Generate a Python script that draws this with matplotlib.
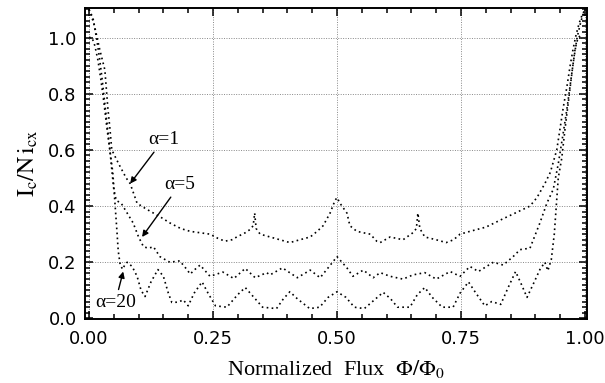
import matplotlib
matplotlib.use("Agg")
import matplotlib.pyplot as plt
from matplotlib.ticker import MultipleLocator

# alpha = 1 curve
alpha1_x = [0.000, 0.010, 0.022, 0.032, 0.038, 0.042, 0.046, 0.060, 0.075, 0.083, 0.089,
            0.097, 0.115, 0.130, 0.145, 0.163, 0.185, 0.204, 0.224, 0.244, 0.260, 0.274,
            0.288, 0.298, 0.315, 0.325, 0.331, 0.334, 0.337, 0.345, 0.365, 0.385, 0.405,
            0.425, 0.446, 0.460, 0.472, 0.486, 0.496, 0.500, 0.506, 0.520, 0.526, 0.540,
            0.553, 0.567, 0.580, 0.587, 0.607, 0.633, 0.653, 0.660, 0.663, 0.667, 0.677,
            0.700, 0.720, 0.735, 0.748, 0.768, 0.800, 0.835, 0.865, 0.889, 0.903, 0.919,
            0.930, 0.943, 0.950, 0.956, 0.963, 0.970, 0.976, 0.982, 0.988, 0.994, 1.000]
alpha1_y = [1.100, 1.050, 0.955, 0.885, 0.750, 0.680, 0.600, 0.550, 0.500, 0.480, 0.450,
            0.410, 0.390, 0.375, 0.360, 0.340, 0.320, 0.310, 0.305, 0.300, 0.285, 0.275,
            0.280, 0.290, 0.305, 0.317, 0.330, 0.375, 0.320, 0.300, 0.290, 0.280, 0.270,
            0.280, 0.290, 0.310, 0.330, 0.375, 0.420, 0.430, 0.410, 0.375, 0.330, 0.310,
            0.305, 0.300, 0.275, 0.270, 0.290, 0.280, 0.305, 0.320, 0.375, 0.320, 0.290,
            0.280, 0.270, 0.280, 0.300, 0.310, 0.325, 0.355, 0.380, 0.400, 0.430, 0.480,
            0.520, 0.600, 0.680, 0.750, 0.820, 0.900, 0.960, 1.010, 1.050, 1.080, 1.100]

# alpha = 5 curve
alpha5_x = [0.000, 0.008, 0.015, 0.021, 0.026, 0.031, 0.036, 0.041, 0.046, 0.050, 0.055,
            0.065, 0.077, 0.089, 0.100, 0.110, 0.120, 0.130, 0.143, 0.163, 0.183, 0.197,
            0.204, 0.214, 0.224, 0.244, 0.270, 0.292, 0.315, 0.335, 0.358, 0.365, 0.390,
            0.420, 0.446, 0.466, 0.482, 0.500, 0.520, 0.532, 0.553, 0.573, 0.587, 0.607,
            0.633, 0.653, 0.677, 0.700, 0.728, 0.748, 0.768, 0.785, 0.815, 0.835, 0.855,
            0.869, 0.889, 0.909, 0.923, 0.936, 0.946, 0.956, 0.963, 0.970, 0.977, 0.984,
            0.992, 1.000]
alpha5_y = [1.100, 1.070, 1.000, 0.930, 0.860, 0.780, 0.700, 0.620, 0.530, 0.460, 0.420,
            0.410, 0.375, 0.340, 0.290, 0.255, 0.250, 0.255, 0.220, 0.200, 0.205, 0.175,
            0.158, 0.175, 0.190, 0.150, 0.165, 0.142, 0.178, 0.145, 0.163, 0.155, 0.180,
            0.145, 0.172, 0.145, 0.180, 0.220, 0.180, 0.150, 0.172, 0.145, 0.163, 0.150,
            0.140, 0.155, 0.163, 0.140, 0.167, 0.150, 0.185, 0.167, 0.200, 0.190, 0.220,
            0.245, 0.250, 0.340, 0.410, 0.460, 0.550, 0.660, 0.740, 0.830, 0.920, 1.000,
            1.060, 1.100]

# alpha = 20 curve
alpha20_x = [0.000, 0.006, 0.012, 0.018, 0.024, 0.030, 0.036, 0.042, 0.048, 0.052, 0.056,
             0.059, 0.063, 0.068, 0.072, 0.077, 0.087, 0.097, 0.105, 0.113, 0.125, 0.139,
             0.150, 0.160, 0.167, 0.180, 0.190, 0.200, 0.212, 0.228, 0.240, 0.255, 0.278,
             0.300, 0.315, 0.330, 0.350, 0.378, 0.392, 0.405, 0.420, 0.445, 0.465, 0.482,
             0.500, 0.518, 0.535, 0.555, 0.578, 0.593, 0.608, 0.622, 0.647, 0.662, 0.677,
             0.692, 0.712, 0.734, 0.748, 0.765, 0.780, 0.798, 0.812, 0.830, 0.845, 0.860,
             0.872, 0.883, 0.895, 0.909, 0.919, 0.925, 0.932, 0.938, 0.942, 0.946, 0.953,
             0.960, 0.967, 0.974, 0.980, 0.986, 0.994]
alpha20_y = [1.000, 1.000, 0.970, 0.920, 0.850, 0.770, 0.680, 0.600, 0.520, 0.420, 0.320,
             0.240, 0.190, 0.175, 0.190, 0.200, 0.185, 0.150, 0.100, 0.078, 0.130, 0.174,
             0.150, 0.090, 0.057, 0.058, 0.066, 0.045, 0.090, 0.130, 0.090, 0.045, 0.040,
             0.085, 0.110, 0.080, 0.040, 0.035, 0.070, 0.095, 0.070, 0.035, 0.040, 0.075,
             0.095, 0.075, 0.040, 0.035, 0.070, 0.093, 0.070, 0.040, 0.040, 0.085, 0.110,
             0.075, 0.040, 0.040, 0.090, 0.130, 0.090, 0.045, 0.060, 0.050, 0.110, 0.167,
             0.120, 0.075, 0.120, 0.174, 0.200, 0.170, 0.210, 0.300, 0.400, 0.500, 0.570,
             0.680, 0.780, 0.880, 0.960, 1.000, 1.010]

x_ticks = [0.0, 0.25, 0.5, 0.75, 1.0]
x_ticklabels = ["0.00", "0.25", "0.50", "0.75", "1.00"]
y_ticks = [0.0, 0.2, 0.4, 0.6, 0.8, 1.0]
y_ticklabels = ["0.0", "0.2", "0.4", "0.6", "0.8", "1.0"]

plt.rcParams['mathtext.fontset'] = 'stix'

fig = plt.figure(figsize=(6.05, 3.83), dpi=100)
ax = fig.add_axes([0.1405, 0.1671, 0.8298, 0.812])

# curves are drawn as rough dotted traces, like the scanned data points
dot = (0, (1, 2.0))
for xs, ys in [(alpha1_x, alpha1_y), (alpha5_x, alpha5_y), (alpha20_x, alpha20_y)]:
    ax.plot(xs, ys, color='black', lw=1.2, ls=dot)

ax.set_xlim(-0.008, 1.004)
ax.set_ylim(-0.002, 1.105)

ax.set_xticks(x_ticks)
ax.set_xticklabels(x_ticklabels)
ax.set_yticks(y_ticks)
ax.set_yticklabels(y_ticklabels)
ax.xaxis.set_minor_locator(MultipleLocator(0.05))
ax.yaxis.set_minor_locator(MultipleLocator(0.02))
ax.tick_params(which='both', direction='in', top=True, right=True, width=1.1, color='black')
ax.tick_params(which='major', length=6, labelsize=13, pad=6)
ax.tick_params(which='minor', length=3.5)
ax.tick_params(axis='x', which='major', pad=8)

for s in ax.spines.values():
    s.set_linewidth(1.4)

ax.grid(True, which='major', ls=(0, (1, 1.5)), color='#888888', lw=0.7)

serif = 'Liberation Serif'
ax.set_xlabel(r'Normalized  Flux  $\Phi/\Phi_0$', family=serif, fontsize=16, labelpad=7)
ax.set_ylabel(r'$\mathrm{I_c/N\,i_{cx}}$', fontsize=17, labelpad=6)

arrow = dict(arrowstyle='-|>', color='black', lw=1.0, mutation_scale=9, shrinkA=1, shrinkB=0)
ax.annotate('α=1', xy=(0.083, 0.48), xytext=(0.150, 0.636), ha='center', va='center',
            family=serif, fontsize=14, arrowprops=arrow)
ax.annotate('α=5', xy=(0.107, 0.29), xytext=(0.183, 0.476), ha='center', va='center',
            family=serif, fontsize=14, arrowprops=arrow)
ax.annotate('α=20', xy=(0.069, 0.167), xytext=(0.053, 0.058), ha='center', va='center',
            family=serif, fontsize=14, arrowprops=arrow)

fig.savefig('out.png', dpi=100)
